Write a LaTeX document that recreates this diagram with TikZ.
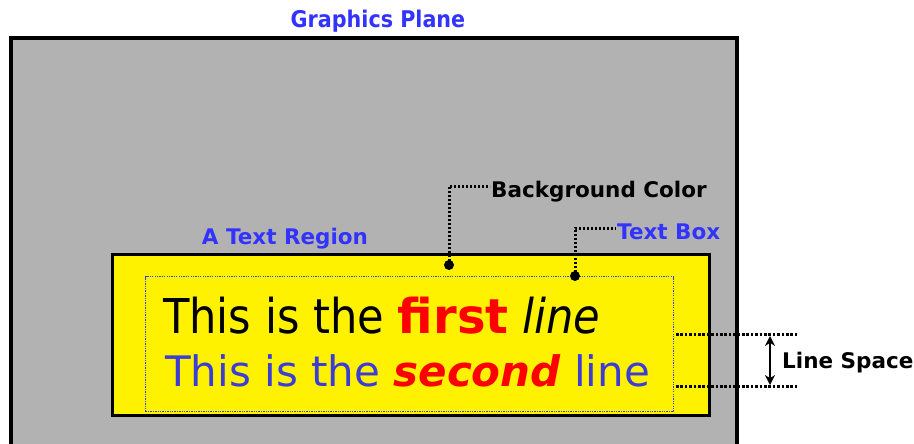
\documentclass[tikz,border=0pt]{standalone}
\usepackage{fontspec}
\setmainfont{DejaVu Sans}
\newfontfamily\verd{DejaVu Sans}
\newfontfamily\verdc{DejaVu Sans Condensed}
\usetikzlibrary{arrows.meta}
\definecolor{lblue}{RGB}{51,51,255}
\definecolor{tblue}{RGB}{60,60,215}
\definecolor{pgray}{RGB}{178,178,178}
\tikzset{
  lbl/.style={font=\verd\fontsize{21.5}{25}\selectfont\bfseries, inner sep=0pt},
  leader/.style={line width=3pt, dash pattern=on 2.4pt off 1.6pt},
  spaceline/.style={line width=3pt, dash pattern=on 2.6pt off 1.8pt},
  pin/.style={circle, fill=black, inner sep=0pt, minimum size=10pt},
}
\begin{document}
\begin{tikzpicture}[x=1pt,y=-1pt]
\useasboundingbox (0,0) rectangle (914,444);
% graphics plane
\fill[pgray] (11,38) rectangle (737,450);
\draw[line width=3.5pt] (11,450) -- (11,38) -- (737,38) -- (737,450);
\node[inner sep=0pt, text=lblue, font=\verdc\fontsize{23}{26}\selectfont\bfseries] (gp) at (378,21) {Graphics Plane};
% text region
\node[draw=black, line width=3pt, fill=yellow, minimum width=597pt, minimum height=161pt, inner sep=0pt, anchor=north west] (tr) at (111,253) {};
\node[lbl, text=lblue, anchor=base] (trl) at (285,244) {A Text Region};
% text box
\node[draw=tblue, line width=1.3pt, dash pattern=on 1.3pt off 1.1pt, minimum width=528pt, minimum height=135pt, inner sep=0pt, anchor=north west] (tb) at (145,276) {};
% text lines
\node[anchor=base west, inner sep=0pt, font=\verdc\fontsize{48}{52}\selectfont] (l1) at (163,333) {This is the \textcolor{red}{\verd\bfseries first} \textit{line}};
\node[anchor=base west, inner sep=0pt, text=tblue, font=\verd\fontsize{42}{48}\selectfont] (l2) at (165,386) {This is the \textcolor{red}{\bfseries\itshape second} line};
% leaders
\node[pin] (p1) at (449,265) {};
\node[pin] (p2) at (575,276) {};
\node[lbl, anchor=west] (bc) at (491,192) {Background Color};
\node[lbl, anchor=west, text=lblue] (tbl) at (617,232) {Text Box};
\draw[leader] (p1.center) |- ([xshift=-1pt,yshift=6pt]bc.west);
\draw[leader] (p2.center) |- ([xshift=-1pt,yshift=4pt]tbl.west);
% line space
\coordinate (s1a) at (676,334);
\coordinate (s1b) at (798,334);
\coordinate (s2a) at (676,386);
\coordinate (s2b) at (798,386);
\draw[spaceline] (s1a) -- (s1b);
\draw[spaceline] (s2a) -- (s2b);
\coordinate (aa) at (770,336);
\coordinate (ab) at (770,385);
\draw[line width=2.2pt, {Stealth[length=10pt,width=10pt]}-{Stealth[length=10pt,width=10pt]}] (aa) -- (ab);
\node[lbl, anchor=west] (ls) at (782,363) {Line Space};
\end{tikzpicture}
\end{document}
